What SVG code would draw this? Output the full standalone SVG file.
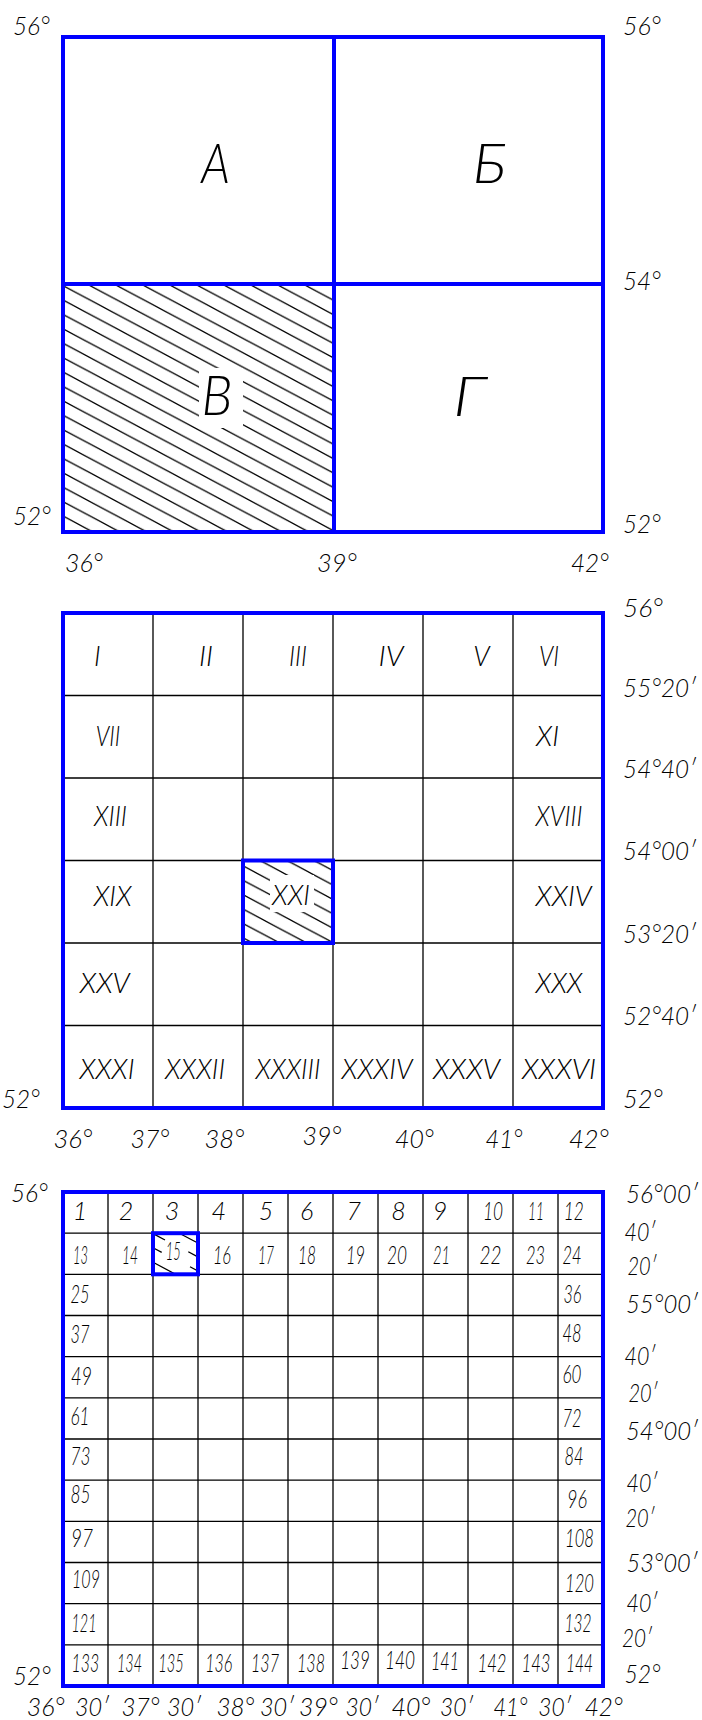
<svg xmlns="http://www.w3.org/2000/svg" width="702" height="1720" viewBox="0 0 702 1720">
<style>
.t{font-family:Lato,Roboto,"Liberation Sans",sans-serif;font-style:italic;font-weight:300;fill:#000;text-anchor:middle}
.big{font-size:56px}
.d{font-size:26px}
.r{font-size:27px}
.n{font-size:25px}
.m{font-size:25px}
.b{fill:none;stroke:#0000ff;stroke-width:4;stroke-linecap:square}
.g{fill:none;stroke:#000;stroke-width:1.3}
.h{fill:none;stroke:#000;stroke-width:1.3}
</style>
<defs>
<pattern id="hatch" patternUnits="userSpaceOnUse" width="27" height="14.4">
<path d="M0,0L27,14.4M-2,13.333L2,15.467M25,-1.067L29,1.067" stroke="#000" stroke-width="1.3" fill="none"/>
</pattern>
</defs>

<g id="map-1000k">
  <g id="sheet-V-hatch">
    <g transform="translate(87,284)"><rect x="-24" y="0" width="271" height="248" fill="url(#hatch)"/></g>
    <rect x="199" y="368" width="44" height="60" fill="#fff"/>
  </g>
  <g id="frame-top">
    <rect class="b" x="63" y="37" width="540" height="495"/>
    <path class="b" d="M334,37V532M63,284H603"/>
  </g>
  <g id="cell-A"><text class="t big" x="215.5" y="183" textLength="29" lengthAdjust="spacingAndGlyphs">А</text></g>
  <g id="cell-B"><text class="t big" x="489.5" y="183" textLength="34" lengthAdjust="spacingAndGlyphs">Б</text></g>
  <g id="cell-V"><text class="t big" x="217" y="415" textLength="31" lengthAdjust="spacingAndGlyphs">В</text></g>
  <g id="cell-G"><text class="t big" x="469.5" y="416" textLength="33" lengthAdjust="spacingAndGlyphs">Г</text></g>
  <g id="labels-top">
    <text class="t d" x="31.5" y="35" textLength="37" lengthAdjust="spacingAndGlyphs">56°</text>
    <text class="t d" x="642" y="35" textLength="38" lengthAdjust="spacingAndGlyphs">56°</text>
    <text class="t d" x="642" y="290" textLength="38" lengthAdjust="spacingAndGlyphs">54°</text>
    <text class="t d" x="32" y="525" textLength="38" lengthAdjust="spacingAndGlyphs">52°</text>
    <text class="t d" x="642" y="533" textLength="38" lengthAdjust="spacingAndGlyphs">52°</text>
    <text class="t d" x="84" y="572" textLength="38" lengthAdjust="spacingAndGlyphs">36°</text>
    <text class="t d" x="337" y="572" textLength="40" lengthAdjust="spacingAndGlyphs">39°</text>
    <text class="t d" x="590" y="572" textLength="38" lengthAdjust="spacingAndGlyphs">42°</text>
  </g>
</g>

<g id="map-sheet-V">
  <path class="g" d="M153,613V1108M243,613V1108M333,613V1108M423,613V1108M513,613V1108M63,695.5H603M63,778H603M63,860.5H603M63,943H603M63,1025.5H603"/>
  <g id="sheet-XXI-hatch">
    <g transform="translate(260,860.5)"><rect x="-17" y="0" width="90" height="82.5" fill="url(#hatch)"/></g>
    <rect x="270" y="875" width="44" height="37" fill="#fff"/>
  </g>
  <rect class="b" x="63" y="613" width="540" height="495"/>
  <rect class="b" x="243" y="860.5" width="90" height="82.5"/>
  <g id="roman-labels">
    <text class="t r" x="97.3" y="666">I</text>
    <text class="t r" x="206" y="666" textLength="14" lengthAdjust="spacingAndGlyphs">II</text>
    <text class="t r" x="298" y="666" textLength="18" lengthAdjust="spacingAndGlyphs">III</text>
    <text class="t r" x="391" y="666" textLength="25" lengthAdjust="spacingAndGlyphs">IV</text>
    <text class="t r" x="481.5" y="666">V</text>
    <text class="t r" x="549" y="666" textLength="20" lengthAdjust="spacingAndGlyphs">VI</text>
    <text class="t r" x="108" y="745.7" textLength="24.5" lengthAdjust="spacingAndGlyphs">VII</text>
    <text class="t r" x="547.5" y="745.7" textLength="23" lengthAdjust="spacingAndGlyphs">XI</text>
    <text class="t r" x="110.5" y="825.7" textLength="33" lengthAdjust="spacingAndGlyphs">XIII</text>
    <text class="t r" x="559" y="825.7" textLength="47" lengthAdjust="spacingAndGlyphs">XVIII</text>
    <text class="t r" x="112.7" y="905.5" textLength="38" lengthAdjust="spacingAndGlyphs">XIX</text>
    <text class="t r" x="291" y="905" textLength="38" lengthAdjust="spacingAndGlyphs">XXI</text>
    <text class="t r" x="563.6" y="905.5" textLength="56" lengthAdjust="spacingAndGlyphs">XXIV</text>
    <text class="t r" x="104.7" y="993.3" textLength="50" lengthAdjust="spacingAndGlyphs">XXV</text>
    <text class="t r" x="559" y="993.3" textLength="47" lengthAdjust="spacingAndGlyphs">XXX</text>
    <text class="t r" x="107" y="1079.3" textLength="55" lengthAdjust="spacingAndGlyphs">XXXI</text>
    <text class="t r" x="195" y="1079.3" textLength="60" lengthAdjust="spacingAndGlyphs">XXXII</text>
    <text class="t r" x="288" y="1079.3" textLength="65" lengthAdjust="spacingAndGlyphs">XXXIII</text>
    <text class="t r" x="377" y="1079.3" textLength="71" lengthAdjust="spacingAndGlyphs">XXXIV</text>
    <text class="t r" x="466.5" y="1079.3" textLength="67" lengthAdjust="spacingAndGlyphs">XXXV</text>
    <text class="t r" x="559" y="1079.3" textLength="74" lengthAdjust="spacingAndGlyphs">XXXVI</text>
  </g>
  <g id="labels-mid">
    <text class="t d" x="643" y="616.7" textLength="40" lengthAdjust="spacingAndGlyphs">56°</text>
    <text class="t d" x="659.6" y="696.7" textLength="73" lengthAdjust="spacingAndGlyphs">55°20′</text>
    <text class="t d" x="659.6" y="778.3" textLength="73" lengthAdjust="spacingAndGlyphs">54°40′</text>
    <text class="t d" x="659.6" y="860" textLength="73" lengthAdjust="spacingAndGlyphs">54°00′</text>
    <text class="t d" x="659.6" y="943.3" textLength="73" lengthAdjust="spacingAndGlyphs">53°20′</text>
    <text class="t d" x="659.6" y="1025" textLength="73" lengthAdjust="spacingAndGlyphs">52°40′</text>
    <text class="t d" x="643" y="1108.3" textLength="40" lengthAdjust="spacingAndGlyphs">52°</text>
    <text class="t d" x="21" y="1108.3" textLength="38" lengthAdjust="spacingAndGlyphs">52°</text>
    <text class="t d" x="73" y="1148.3" textLength="39" lengthAdjust="spacingAndGlyphs">36°</text>
    <text class="t d" x="150" y="1148.3" textLength="39" lengthAdjust="spacingAndGlyphs">37°</text>
    <text class="t d" x="224.5" y="1148.3" textLength="40" lengthAdjust="spacingAndGlyphs">38°</text>
    <text class="t d" x="322" y="1145" textLength="39" lengthAdjust="spacingAndGlyphs">39°</text>
    <text class="t d" x="414.5" y="1148.3" textLength="39" lengthAdjust="spacingAndGlyphs">40°</text>
    <text class="t d" x="504" y="1148.3" textLength="37" lengthAdjust="spacingAndGlyphs">41°</text>
    <text class="t d" x="589" y="1148.3" textLength="40" lengthAdjust="spacingAndGlyphs">42°</text>
  </g>
</g>

<g id="map-sheet-XXI">
  <path class="g" d="M108,1192V1686M153,1192V1686M198,1192V1686M243,1192V1686M288,1192V1686M333,1192V1686M378,1192V1686M423,1192V1686M468,1192V1686M513,1192V1686M558,1192V1686M63,1233.2H603M63,1274.3H603M63,1315.5H603M63,1356.7H603M63,1397.8H603M63,1439H603M63,1480.2H603M63,1521.3H603M63,1562.5H603M63,1603.7H603M63,1644.8H603"/>
  <g id="sheet-15-hatch">
    <path class="h" d="M154,1234.1L165,1240M178.3,1232.7L198.3,1243.3M154,1248.3L161.7,1252.4M188.3,1251.7L198.3,1257.1M154,1262.7L175,1274M190,1266.7L199,1271.5"/>
  </g>
  <rect class="b" x="63" y="1192" width="540" height="494"/>
  <rect class="b" x="153" y="1233.2" width="45" height="41.1"/>
  <g id="numbers">
    <text class="t n" x="80" y="1220">1</text>
    <text class="t n" x="126" y="1220">2</text>
    <text class="t n" x="172" y="1220">3</text>
    <text class="t n" x="218.7" y="1220">4</text>
    <text class="t n" x="266" y="1220">5</text>
    <text class="t n" x="306.7" y="1220">6</text>
    <text class="t n" x="353.7" y="1220">7</text>
    <text class="t n" x="398.4" y="1220">8</text>
    <text class="t n" x="440" y="1220">9</text>
    <text class="t n" x="493" y="1220" textLength="20" lengthAdjust="spacingAndGlyphs">10</text>
    <text class="t n" x="536" y="1220" textLength="16" lengthAdjust="spacingAndGlyphs">11</text>
    <text class="t n" x="573.7" y="1220" textLength="20" lengthAdjust="spacingAndGlyphs">12</text>
    <text class="t n" x="80.4" y="1264" textLength="15" lengthAdjust="spacingAndGlyphs">13</text>
    <text class="t n" x="130" y="1264" textLength="16" lengthAdjust="spacingAndGlyphs">14</text>
    <text class="t n" x="173.3" y="1260" textLength="15" lengthAdjust="spacingAndGlyphs">15</text>
    <text class="t n" x="222" y="1264" textLength="18" lengthAdjust="spacingAndGlyphs">16</text>
    <text class="t n" x="266" y="1264" textLength="16" lengthAdjust="spacingAndGlyphs">17</text>
    <text class="t n" x="307" y="1264" textLength="18" lengthAdjust="spacingAndGlyphs">18</text>
    <text class="t n" x="355.6" y="1264" textLength="19" lengthAdjust="spacingAndGlyphs">19</text>
    <text class="t n" x="397" y="1264" textLength="20" lengthAdjust="spacingAndGlyphs">20</text>
    <text class="t n" x="441.5" y="1264" textLength="17" lengthAdjust="spacingAndGlyphs">21</text>
    <text class="t n" x="490.6" y="1264" textLength="22" lengthAdjust="spacingAndGlyphs">22</text>
    <text class="t n" x="535.5" y="1264" textLength="19" lengthAdjust="spacingAndGlyphs">23</text>
    <text class="t n" x="571.9" y="1264" textLength="19" lengthAdjust="spacingAndGlyphs">24</text>
    <text class="t n" x="80" y="1303.3" textLength="19" lengthAdjust="spacingAndGlyphs">25</text>
    <text class="t n" x="80" y="1343.3" textLength="19" lengthAdjust="spacingAndGlyphs">37</text>
    <text class="t n" x="81.5" y="1385" textLength="21" lengthAdjust="spacingAndGlyphs">49</text>
    <text class="t n" x="80" y="1425" textLength="19" lengthAdjust="spacingAndGlyphs">61</text>
    <text class="t n" x="80.6" y="1465" textLength="20" lengthAdjust="spacingAndGlyphs">73</text>
    <text class="t n" x="80.6" y="1502.7" textLength="20" lengthAdjust="spacingAndGlyphs">85</text>
    <text class="t n" x="82" y="1546.7" textLength="22" lengthAdjust="spacingAndGlyphs">97</text>
    <text class="t n" x="86" y="1588.3" textLength="28" lengthAdjust="spacingAndGlyphs">109</text>
    <text class="t n" x="84" y="1631.7" textLength="25" lengthAdjust="spacingAndGlyphs">121</text>
    <text class="t n" x="572.5" y="1302.7" textLength="18" lengthAdjust="spacingAndGlyphs">36</text>
    <text class="t n" x="572" y="1341.7" textLength="19" lengthAdjust="spacingAndGlyphs">48</text>
    <text class="t n" x="572" y="1383.3" textLength="19" lengthAdjust="spacingAndGlyphs">60</text>
    <text class="t n" x="572" y="1426.7" textLength="19" lengthAdjust="spacingAndGlyphs">72</text>
    <text class="t n" x="574" y="1465" textLength="19" lengthAdjust="spacingAndGlyphs">84</text>
    <text class="t n" x="577" y="1508.3" textLength="20" lengthAdjust="spacingAndGlyphs">96</text>
    <text class="t n" x="579.5" y="1547.3" textLength="29" lengthAdjust="spacingAndGlyphs">108</text>
    <text class="t n" x="579.5" y="1591.7" textLength="29" lengthAdjust="spacingAndGlyphs">120</text>
    <text class="t n" x="578" y="1631.7" textLength="27" lengthAdjust="spacingAndGlyphs">132</text>
    <text class="t n" x="85.3" y="1671.7" textLength="27.7" lengthAdjust="spacingAndGlyphs">133</text>
    <text class="t n" x="129.5" y="1671.7" textLength="25" lengthAdjust="spacingAndGlyphs">134</text>
    <text class="t n" x="171" y="1671.7" textLength="25.5" lengthAdjust="spacingAndGlyphs">135</text>
    <text class="t n" x="218.7" y="1671.7" textLength="27" lengthAdjust="spacingAndGlyphs">136</text>
    <text class="t n" x="265" y="1671.7" textLength="28" lengthAdjust="spacingAndGlyphs">137</text>
    <text class="t n" x="311" y="1671.7" textLength="28" lengthAdjust="spacingAndGlyphs">138</text>
    <text class="t n" x="355" y="1669" textLength="29.6" lengthAdjust="spacingAndGlyphs">139</text>
    <text class="t n" x="400" y="1669" textLength="30" lengthAdjust="spacingAndGlyphs">140</text>
    <text class="t n" x="445" y="1670" textLength="28" lengthAdjust="spacingAndGlyphs">141</text>
    <text class="t n" x="492" y="1671.7" textLength="29" lengthAdjust="spacingAndGlyphs">142</text>
    <text class="t n" x="536" y="1671.7" textLength="29" lengthAdjust="spacingAndGlyphs">143</text>
    <text class="t n" x="579.5" y="1671.7" textLength="27" lengthAdjust="spacingAndGlyphs">144</text>
  </g>
  <g id="labels-bottom">
    <text class="t m" x="662" y="1202.7" textLength="72" lengthAdjust="spacingAndGlyphs">56°00′</text>
    <text class="t m" x="640" y="1240.7" textLength="31" lengthAdjust="spacingAndGlyphs">40′</text>
    <text class="t m" x="642" y="1275" textLength="29" lengthAdjust="spacingAndGlyphs">20′</text>
    <text class="t m" x="662" y="1313" textLength="72" lengthAdjust="spacingAndGlyphs">55°00′</text>
    <text class="t m" x="640" y="1365" textLength="31" lengthAdjust="spacingAndGlyphs">40′</text>
    <text class="t m" x="643" y="1401.7" textLength="29" lengthAdjust="spacingAndGlyphs">20′</text>
    <text class="t m" x="662" y="1440" textLength="72" lengthAdjust="spacingAndGlyphs">54°00′</text>
    <text class="t m" x="642" y="1491.7" textLength="31" lengthAdjust="spacingAndGlyphs">40′</text>
    <text class="t m" x="640" y="1527" textLength="29" lengthAdjust="spacingAndGlyphs">20′</text>
    <text class="t m" x="662" y="1571.7" textLength="71" lengthAdjust="spacingAndGlyphs">53°00′</text>
    <text class="t m" x="642" y="1611.7" textLength="31" lengthAdjust="spacingAndGlyphs">40′</text>
    <text class="t m" x="637" y="1646.7" textLength="30" lengthAdjust="spacingAndGlyphs">20′</text>
    <text class="t m" x="642.5" y="1683" textLength="36" lengthAdjust="spacingAndGlyphs">52°</text>
    <text class="t m" x="29.5" y="1201.7" textLength="37" lengthAdjust="spacingAndGlyphs">56°</text>
    <text class="t m" x="32" y="1685" textLength="38" lengthAdjust="spacingAndGlyphs">52°</text>
    <text class="t m" x="45.7" y="1716" textLength="38" lengthAdjust="spacingAndGlyphs">36°</text>
    <text class="t m" x="92" y="1716" textLength="34" lengthAdjust="spacingAndGlyphs">30′</text>
    <text class="t m" x="140.6" y="1716" textLength="38" lengthAdjust="spacingAndGlyphs">37°</text>
    <text class="t m" x="184" y="1716" textLength="34" lengthAdjust="spacingAndGlyphs">30′</text>
    <text class="t m" x="235.5" y="1716" textLength="38" lengthAdjust="spacingAndGlyphs">38°</text>
    <text class="t m" x="277" y="1716" textLength="34" lengthAdjust="spacingAndGlyphs">30′</text>
    <text class="t m" x="318.5" y="1716" textLength="39" lengthAdjust="spacingAndGlyphs">39°</text>
    <text class="t m" x="362" y="1716" textLength="33" lengthAdjust="spacingAndGlyphs">30′</text>
    <text class="t m" x="411" y="1716" textLength="39" lengthAdjust="spacingAndGlyphs">40°</text>
    <text class="t m" x="456.5" y="1716" textLength="33" lengthAdjust="spacingAndGlyphs">30′</text>
    <text class="t m" x="510.5" y="1716" textLength="34" lengthAdjust="spacingAndGlyphs">41°</text>
    <text class="t m" x="554.7" y="1716" textLength="33" lengthAdjust="spacingAndGlyphs">30′</text>
    <text class="t m" x="603.8" y="1716" textLength="38" lengthAdjust="spacingAndGlyphs">42°</text>
  </g>
</g>
</svg>
